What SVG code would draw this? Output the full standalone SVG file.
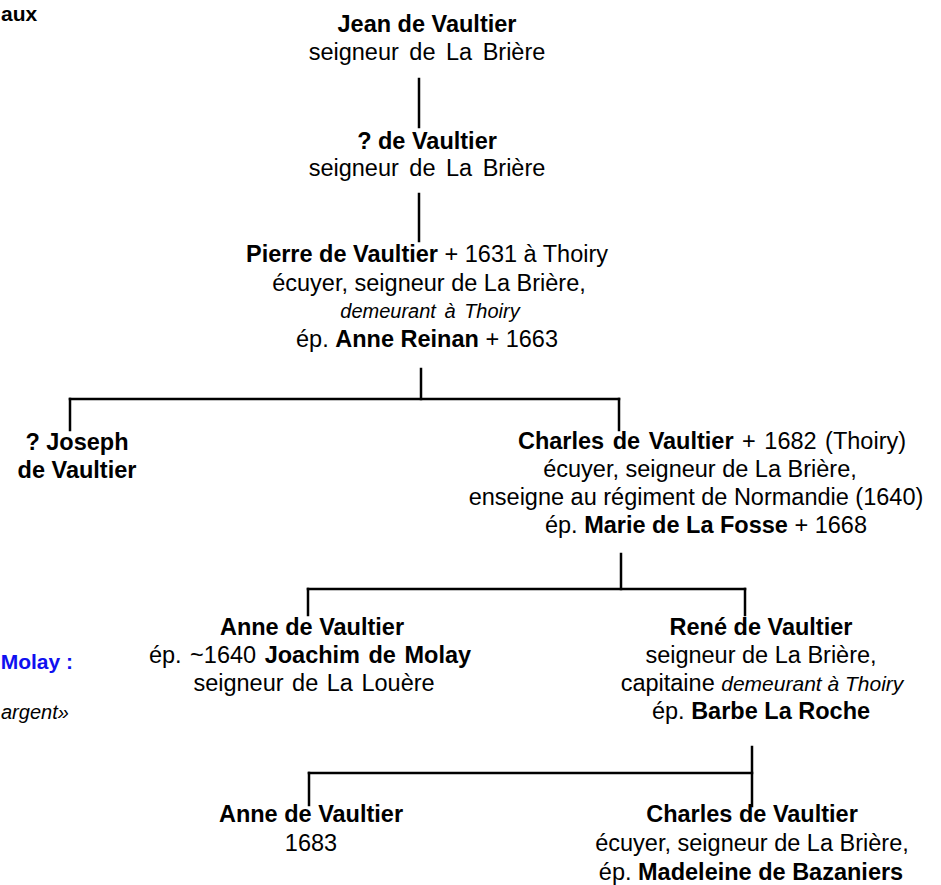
<svg xmlns="http://www.w3.org/2000/svg" width="941" height="885" viewBox="0 0 941 885">
<style>
text{font-family:"Liberation Sans",Arial,sans-serif;font-size:23.5px;fill:#000;text-anchor:middle}
.b{font-weight:bold}
.i{font-style:italic;font-size:20px}
.blue{fill:#1010f0;font-weight:bold;font-size:21px}
.ws{word-spacing:4px}
.conn line{stroke:#000;stroke-width:2.5;stroke-linecap:square}
</style>
<rect width="941" height="885" fill="#fff"/>
<g id="connectors" class="conn">
<line x1="419" y1="79" x2="419" y2="127"/>
<line x1="419" y1="194" x2="419" y2="241"/>
<line x1="421" y1="369" x2="421" y2="399"/>
<line x1="70" y1="399" x2="619" y2="399"/>
<line x1="70" y1="399" x2="70" y2="430"/>
<line x1="619" y1="399" x2="619" y2="430"/>
<line x1="621" y1="554" x2="621" y2="589"/>
<line x1="308" y1="589" x2="745" y2="589"/>
<line x1="308" y1="589" x2="308" y2="615"/>
<line x1="745" y1="589" x2="745" y2="615"/>
<line x1="752" y1="747" x2="752" y2="806"/>
<line x1="309" y1="773" x2="752" y2="773"/>
<line x1="309" y1="773" x2="309" y2="805"/>
</g>
<g id="side-notes">
<text class="b" x="1" y="21" style="text-anchor:start;font-size:21px">aux</text>
<text class="blue" x="73" y="669" style="text-anchor:end">Molay :</text>
<text class="i" x="1" y="719" style="text-anchor:start">argent»</text>
</g>
<g id="jean">
<text x="427" y="32" class="b">Jean de Vaultier</text>
<text x="427" y="60" class="ws">seigneur de La Brière</text>
</g>
<g id="unknown">
<text x="427" y="149" class="b">? de Vaultier</text>
<text x="427" y="176" class="ws">seigneur de La Brière</text>
</g>
<g id="pierre">
<text x="427" y="262"><tspan class="b">Pierre de Vaultier</tspan> + 1631 à Thoiry</text>
<text x="429" y="291">écuyer, seigneur de La Brière,</text>
<text x="430" y="318" class="i" word-spacing="3">demeurant à Thoiry</text>
<text x="427" y="347">ép. <tspan class="b">Anne Reinan</tspan> + 1663</text>
</g>
<g id="joseph">
<text x="77" y="450" class="b">? Joseph</text>
<text x="77" y="478" class="b">de Vaultier</text>
</g>
<g id="charles">
<text x="712" y="449" word-spacing="2"><tspan class="b">Charles de Vaultier</tspan> + 1682 (Thoiry)</text>
<text x="700" y="477">écuyer, seigneur de La Brière,</text>
<text x="696" y="505">enseigne au régiment de Normandie (1640)</text>
<text x="706" y="533">ép. <tspan class="b">Marie de La Fosse</tspan> + 1668</text>
</g>
<g id="anne">
<text x="312" y="635" class="b">Anne de Vaultier</text>
<text x="310" y="663" word-spacing="2">ép. ~1640 <tspan class="b">Joachim de Molay</tspan></text>
<text x="314" y="691" word-spacing="2">seigneur de La Louère</text>
</g>
<g id="rene">
<text x="761" y="635" class="b">René de Vaultier</text>
<text x="761" y="663">seigneur de La Brière,</text>
<text x="762" y="691">capitaine <tspan class="i" style="font-size:21px">demeurant à Thoiry</tspan></text>
<text x="761" y="719">ép. <tspan class="b">Barbe La Roche</tspan></text>
</g>
<g id="anne2">
<text x="311" y="822" class="b">Anne de Vaultier</text>
<text x="311" y="851">1683</text>
</g>
<g id="charles2">
<text x="752" y="822" class="b">Charles de Vaultier</text>
<text x="752" y="851">écuyer, seigneur de La Brière,</text>
<text x="751" y="880">ép. <tspan class="b">Madeleine de Bazaniers</tspan></text>
</g>
</svg>
